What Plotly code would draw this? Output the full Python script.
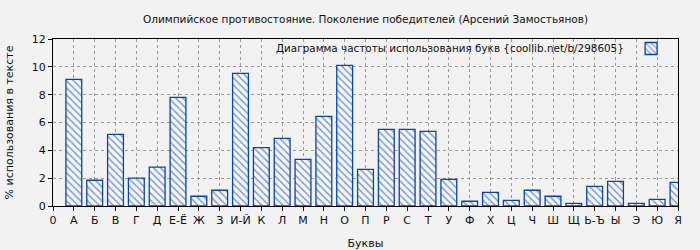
import plotly.graph_objects as go

letters = ["А", "Б", "В", "Г", "Д", "Е-Ё", "Ж", "З", "И-Й", "К", "Л", "М", "Н", "О", "П",
           "Р", "С", "Т", "У", "Ф", "Х", "Ц", "Ч", "Ш", "Щ", "Ь-Ъ", "Ы", "Э", "Ю", "Я"]
values = [9.1, 1.85, 5.15, 2.0, 2.8, 7.8, 0.7, 1.13, 9.53, 4.2, 4.86, 3.35, 6.44, 10.1, 2.63,
          5.5, 5.5, 5.36, 1.92, 0.34, 0.98, 0.41, 1.13, 0.7, 0.19, 1.41, 1.77, 0.19, 0.48, 1.7]
positions = list(range(1, len(letters) + 1))
tick_vals = [0] + positions
tick_text = ["0"] + letters

title = "Олимпийское противостояние. Поколение победителей (Арсений Замостьянов)"
legend_text = "Диаграмма частоты использования букв {coollib.net/b/298605}"

blue = "#0844b0"
font = "DejaVu Sans"

fig = go.Figure()
fig.add_trace(go.Bar(
    x=positions, y=values, width=0.76, name="",
    marker=dict(color="#f6f6f6", line=dict(color=blue, width=1.3),
                pattern=dict(shape="\\", fgcolor=blue, bgcolor="#f6f6f6", size=5, solidity=0.3)),
    showlegend=True,
))

fig.update_layout(
    width=700, height=250,
    margin=dict(l=53, r=22, t=39, b=44),
    paper_bgcolor="#f2f2f2", plot_bgcolor="#f2f2f2",
    font=dict(family=font, size=11, color="#111"),
    title=dict(text=title, xref="paper", x=0.5, xanchor="center", y=1 - 19 / 250, yanchor="middle",
               font=dict(size=10.5, family=font)),
    showlegend=True,
    legend=dict(x=0.997, y=1.03, xanchor="right", yanchor="top", bgcolor="rgba(0,0,0,0)",
                font=dict(size=10.5), itemwidth=30, tracegroupgap=0),
    bargap=0.2,
)
fig.add_annotation(text=legend_text, xref="paper", yref="paper", x=0.916, y=0.995,
                   xanchor="right", yanchor="top", showarrow=False,
                   font=dict(size=10.4, family=font, color="#111"))

fig.update_xaxes(range=[0, 30], tickvals=tick_vals, ticktext=tick_text,
                 showline=True, linecolor="black", linewidth=1, mirror=True,
                 ticks="outside", ticklen=4, tickcolor="black",
                 showgrid=True, gridcolor="#9a9a9a", griddash="dot", gridwidth=1,
                 zeroline=False, tickangle=0, automargin=False,
                 title=dict(text="Буквы", font=dict(size=11)))
fig.update_yaxes(range=[0, 12], tickvals=[0, 2, 4, 6, 8, 10, 12],
                 showline=True, linecolor="black", linewidth=1, mirror=True,
                 ticks="outside", ticklen=4, tickcolor="black",
                 showgrid=True, gridcolor="#9a9a9a", griddash="dot", gridwidth=1,
                 zeroline=False, automargin=False,
                 title=dict(text="% использования в тексте", font=dict(size=11)))

fig.write_html("out.html")
